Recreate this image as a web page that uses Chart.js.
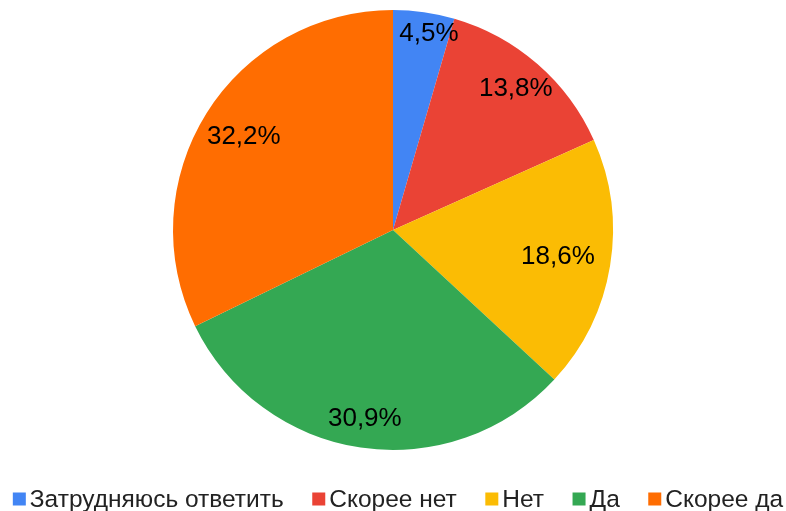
<!DOCTYPE html>
<html>
<head>
<meta charset="utf-8">
<script src="https://cdn.jsdelivr.net/npm/chart.js@4"></script>
<style>
  html, body { margin: 0; padding: 0; background: #fff; }
  #wrap { width: 786px; height: 511px; }
</style>
</head>
<body>
<div id="wrap"><canvas id="grafica" width="786" height="511"></canvas></div>
<script>
const categories = ['Затрудняюсь ответить', 'Скорее нет', 'Нет', 'Да', 'Скорее да'];
const percents = [4.5, 13.8, 18.6, 30.9, 32.2];
const colors = ['#4285F4', '#EA4335', '#FBBC04', '#34A853', '#FF6D01'];

// how far out each label sits, as a share of the radius
const labelReach = [0.9, 0.85, 0.76, 0.87, 0.8];
const FONT = '"Liberation Sans", Arial, sans-serif';

const sliceLabels = {
    id: 'sliceLabels',
    afterDatasetsDraw(chart) {
        const c = chart.ctx;
        const arcs = chart.getDatasetMeta(0).data;
        c.save();
        c.font = '26px ' + FONT;
        c.fillStyle = '#000';
        c.textAlign = 'center';
        c.textBaseline = 'middle';
        arcs.forEach((arc, i) => {
            const mid = (arc.startAngle + arc.endAngle) / 2;
            const r = arc.outerRadius * labelReach[i];
            const x = arc.x + Math.cos(mid) * r + (i === 0 ? 8 : 0);
            const y = arc.y + Math.sin(mid) * r;
            c.fillText(percents[i].toFixed(1).replace('.', ',') + '%', x, y);
        });
        c.restore();
    }
};

// legend drawn by hand: small square, short gap, wide gap between items
const bottomLegend = {
    id: 'bottomLegend',
    afterDraw(chart) {
        const c = chart.ctx;
        const box = 13, gap = 4, spacing = 28.5, y = 499;
        c.save();
        c.font = '24.5px ' + FONT;
        c.textBaseline = 'middle';
        const widths = categories.map(t => c.measureText(t).width);
        const total = widths.reduce((s, w) => s + box + gap + w, 0) + spacing * (categories.length - 1);
        let x = (chart.width - total) / 2 + 5;
        categories.forEach((t, i) => {
            c.fillStyle = colors[i];
            c.fillRect(x, y - box / 2, box, box);
            c.fillStyle = '#222';
            c.fillText(t, x + box + gap, y + 1);
            x += box + gap + widths[i] + spacing;
        });
        c.restore();
    }
};

new Chart(document.getElementById('grafica'), {
    type: 'pie',
    data: {
        labels: categories,
        datasets: [{
            data: percents,
            backgroundColor: colors,
            borderWidth: 0
        }]
    },
    options: {
        responsive: false,
        animation: false,
        layout: {
            padding: { top: 10, bottom: 61 }
        },
        plugins: {
            legend: { display: false },
            tooltip: { enabled: false }
        }
    },
    plugins: [sliceLabels, bottomLegend]
});
</script>
</body>
</html>
